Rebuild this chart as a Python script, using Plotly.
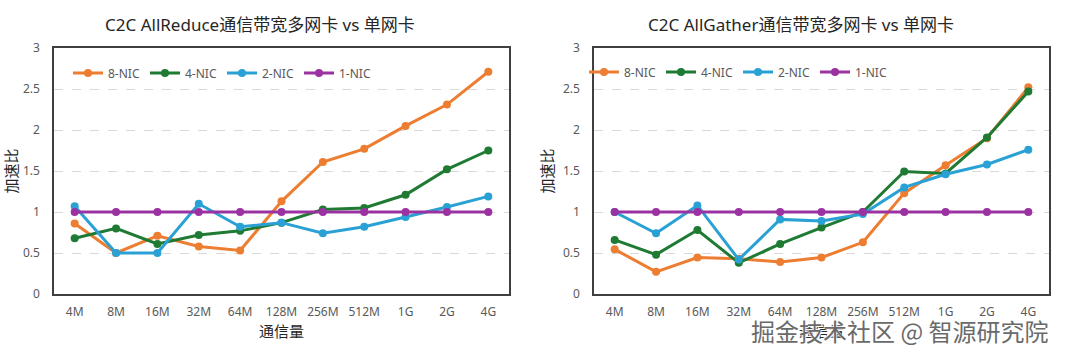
import plotly.graph_objects as go

categories = ["4M", "8M", "16M", "32M", "64M", "128M", "256M", "512M", "1G", "2G", "4G"]
series_names = ["8-NIC", "4-NIC", "2-NIC", "1-NIC"]

allreduce_8nic = [0.86, 0.50, 0.71, 0.58, 0.53, 1.13, 1.61, 1.77, 2.05, 2.31, 2.71]
allreduce_4nic = [0.68, 0.80, 0.61, 0.72, 0.77, 0.87, 1.03, 1.05, 1.21, 1.52, 1.75]
allreduce_2nic = [1.07, 0.50, 0.50, 1.10, 0.82, 0.87, 0.74, 0.82, 0.94, 1.06, 1.19]
allreduce_1nic = [1, 1, 1, 1, 1, 1, 1, 1, 1, 1, 1]

allgather_8nic = [0.545, 0.27, 0.445, 0.43, 0.39, 0.445, 0.63, 1.23, 1.57, 1.90, 2.52]
allgather_4nic = [0.66, 0.48, 0.78, 0.38, 0.61, 0.81, 1.00, 1.495, 1.47, 1.91, 2.47]
allgather_2nic = [1.00, 0.74, 1.08, 0.42, 0.91, 0.89, 0.975, 1.30, 1.46, 1.58, 1.76]
allgather_1nic = [1, 1, 1, 1, 1, 1, 1, 1, 1, 1, 1]

colors = ["#ED7D31", "#1F7A33", "#2AA1D5", "#9B32A2"]

titles = ["C2C AllReduce通信带宽多网卡 vs 单网卡", "C2C AllGather通信带宽多网卡 vs 单网卡"]
y_title = "加速比"
x_title = "通信量"
watermark = "掘金技术社区 @ 智源研究院"
y_ticks = [0, 0.5, 1, 1.5, 2, 2.5, 3]
y_ticktext = ["0", "0.5", "1", "1.5", "2", "2.5", "3"]

W, H = 1080, 358
FONT = "Noto Sans, Noto Sans CJK SC"

fig = go.Figure()

panels = [
    [allreduce_8nic, allreduce_4nic, allreduce_2nic, allreduce_1nic],
    [allgather_8nic, allgather_4nic, allgather_2nic, allgather_1nic],
]

for p, data in enumerate(panels):
    xa = "x" if p == 0 else "x2"
    ya = "y" if p == 0 else "y2"
    lg = "legend" if p == 0 else "legend2"
    for name, vals, c in zip(series_names, data, colors):
        fig.add_trace(go.Scatter(
            x=categories, y=vals, name=name, mode="lines+markers",
            line=dict(color=c, width=3), marker=dict(color=c, size=8),
            xaxis=xa, yaxis=ya, legend=lg,
        ))

px_top, px_bot = 48, 294
ydom = [1 - px_bot / H, 1 - px_top / H]
xdoms = [[54 / W, 509 / W], [594 / W, 1049 / W]]

axis_common = dict(showline=True, mirror=True, linecolor="#404040", linewidth=1.5,
                   ticks="", automargin=False,
                   tickfont=dict(size=12, color="#595959", family=FONT))

layout = dict(
    width=W, height=H,
    margin=dict(l=0, r=0, t=0, b=0, autoexpand=False),
    paper_bgcolor="white", plot_bgcolor="white",
    font=dict(family=FONT),
    showlegend=True,
)

for p in range(2):
    sfx = "" if p == 0 else "2"
    layout["xaxis" + sfx] = dict(
        domain=xdoms[p], anchor="y" + sfx, type="category",
        range=[-0.5, 10.5], showgrid=False, ticklabelstandoff=6,
        title=dict(text=x_title, font=dict(size=15, color="#262626", family="Noto Sans CJK SC"), standoff=6),
        **axis_common,
    )
    layout["yaxis" + sfx] = dict(
        domain=ydom, anchor="x" + sfx, range=[0, 3],
        tickvals=y_ticks, ticktext=y_ticktext,
        showgrid=True, gridcolor="#D9D9D9", griddash="dash", gridwidth=1,
        zeroline=False, ticklabelstandoff=10,
        title=dict(text=y_title, font=dict(size=15, color="#262626", family="Noto Sans CJK SC"), standoff=6),
        **axis_common,
    )

legend_common = dict(orientation="h", yanchor="middle", xanchor="left",
                     font=dict(size=12, color="#595959", family=FONT),
                     bgcolor="rgba(0,0,0,0)", entrywidth=32, entrywidthmode="pixels",
                     tracegroupgap=0, itemwidth=30)
layout["legend"] = dict(x=68 / W, y=1 - 73 / H, **legend_common)
layout["legend2"] = dict(x=584 / W, y=1 - 72 / H, **legend_common)

annotations = [
    dict(text=titles[0], x=260 / W, y=1 - 25 / H, xref="paper", yref="paper",
         showarrow=False, xanchor="center", yanchor="middle",
         font=dict(size=17, color="#262626", family=FONT)),
    dict(text=titles[1], x=801 / W, y=1 - 25 / H, xref="paper", yref="paper",
         showarrow=False, xanchor="center", yanchor="middle",
         font=dict(size=17, color="#262626", family=FONT)),
    dict(text=watermark, x=1050 / W, y=1 - 330 / H, xref="paper", yref="paper",
         showarrow=False, xanchor="right", yanchor="middle",
         font=dict(size=24, color="#6a6a6a", family="Noto Sans CJK SC",
                   shadow="1px 1px 1px #ffffff, -1px -1px 1px #ffffff")),
]
layout["annotations"] = annotations

fig.update_layout(**layout)
fig.write_html(
    "out.html",
    config={"displayModeBar": False},
    post_script="document.body.style.margin='0';document.body.style.overflow='hidden';",
)
